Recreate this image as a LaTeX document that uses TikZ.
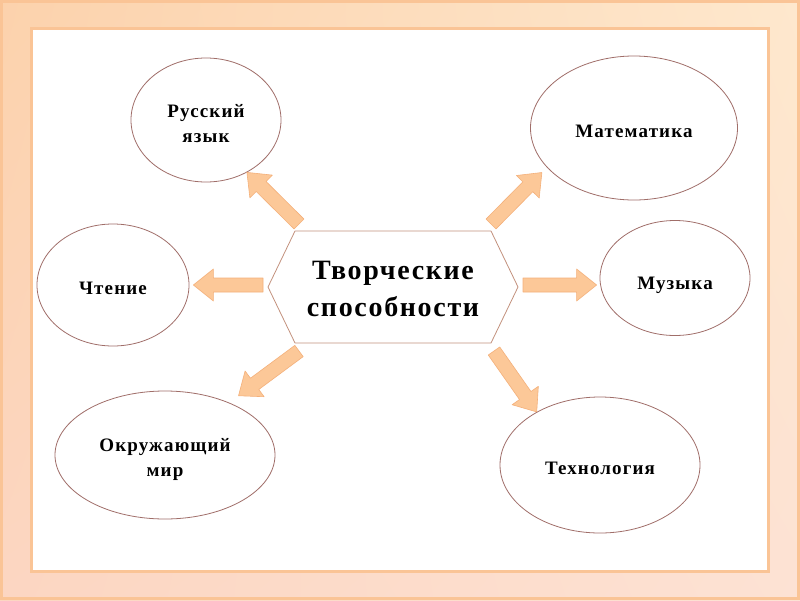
\documentclass[tikz,border=0pt]{standalone}
\usepackage{fontspec}
\setmainfont{Liberation Serif}
\newfontfamily\spacedfont[LetterSpace=6]{Liberation Serif}
\usetikzlibrary{shapes.geometric,calc,shadings}
\definecolor{peachedge}{RGB}{250,196,150}
\definecolor{peachfill}{RGB}{252,200,152}
\definecolor{peachline}{RGB}{244,176,122}
\definecolor{ovaledge}{RGB}{160,110,105}
\definecolor{hubedge}{RGB}{195,145,125}
\definecolor{frameUL}{RGB}{252,210,172}
\definecolor{frameUR}{RGB}{254,232,205}
\definecolor{frameLL}{RGB}{252,214,194}
\definecolor{frameLR}{RGB}{253,226,212}
\newcommand\dn[2]{\raisebox{-#1}[\height][\depth]{#2}}
\newcommand\fatarrow[2]{%
  \coordinate (hb) at ($(#2)!20pt!(#1)$);
  \draw[blk] ($(#1)!7pt!90:(#2)$) -- ($(hb)!7pt!90:(#2)$) -- ($(hb)!16pt!90:(#2)$) -- (#2) -- ($(hb)!16pt!-90:(#2)$) -- ($(hb)!7pt!-90:(#2)$) -- ($(#1)!7pt!-90:(#2)$) -- cycle;}

\begin{document}
\begin{tikzpicture}[x=1pt,y=-1pt,oval/.style={ellipse,draw=ovaledge,line width=.8pt,fill=white,inner sep=0pt,align=center,font=\spacedfont\fontsize{19}{25}\selectfont\bfseries},hubtext/.style={align=center,inner sep=0pt,font=\spacedfont\fontsize{28}{37.5}\selectfont\bfseries},hubline/.style={draw=hubedge,line width=.8pt,line join=round},blk/.style={draw=peachline,fill=peachfill,line width=.6pt,line join=round}]
\useasboundingbox (0,0) rectangle (800,600);

\shade[upper left=frameUL,upper right=frameUR,lower left=frameLL,lower right=frameLR] (0,0) rectangle (800,600);
\draw[peachedge,line width=3pt] (1.5,1.5) rectangle (798.5,598.5);
\draw[peachedge,line width=3pt,fill=white] (31.5,28.5) rectangle (768.5,571.5);

\node[oval,minimum width=150,minimum height=124] (rus) at (206,120) {\dn{4pt}{Русский}\\\dn{4pt}{язык}};
\node[oval,minimum width=207,minimum height=144] (math) at (634,128) {\dn{3pt}{Математика}};
\node[oval,minimum width=152,minimum height=122] (read) at (113,285) {\dn{3pt}{Чтение}};
\node[oval,minimum width=150,minimum height=115] (music) at (675,278) {\dn{7pt}{Музыка}};
\node[oval,minimum width=220,minimum height=128] (world) at (165,455) {\dn{4pt}{Окружающий}\\\dn{4pt}{мир}};
\node[oval,minimum width=200,minimum height=136] (tech) at (600,465) {\dn{3pt}{Технология}};

\node[hubtext] (hub) at (393,287) {\dn{2pt}{Творческие}\\\dn{2pt}{способности}};
\coordinate (hubW) at ($(hub)+(-125,0)$);
\coordinate (hubNW) at ($(hub)+(-98,-56)$);
\coordinate (hubNE) at ($(hub)+(98,-56)$);
\coordinate (hubE) at ($(hub)+(125,0)$);
\coordinate (hubSE) at ($(hub)+(98,56)$);
\coordinate (hubSW) at ($(hub)+(-98,56)$);
\draw[hubline] (hubW)--(hubNW)--(hubNE)--(hubE)--(hubSE)--(hubSW)--cycle;

\coordinate (t1) at ($(hubNW)+(4,-7)$);\coordinate (p1) at (rus.-52);
\coordinate (t2) at ($(hubNE)+(0,-7)$);\coordinate (p2) at ($(math.206)+(-7,3)$);
\coordinate (t3) at ($(hubW)+(-5,-2)$);\coordinate (p3) at ($(read.east)+(4,0)$);
\coordinate (t4) at ($(hubE)+(5,-2)$);\coordinate (p4) at ($(music.west)+(-3,7)$);
\coordinate (t5) at ($(hubSW)+(4,8)$);\coordinate (p5) at ($(world.39)+(9,-7)$);
\coordinate (t6) at ($(hubSE)+(3,8)$);\coordinate (p6) at (tech.140);
\fatarrow{t1}{p1}\fatarrow{t2}{p2}\fatarrow{t3}{p3}
\fatarrow{t4}{p4}\fatarrow{t5}{p5}\fatarrow{t6}{p6}
\end{tikzpicture}
\end{document}
